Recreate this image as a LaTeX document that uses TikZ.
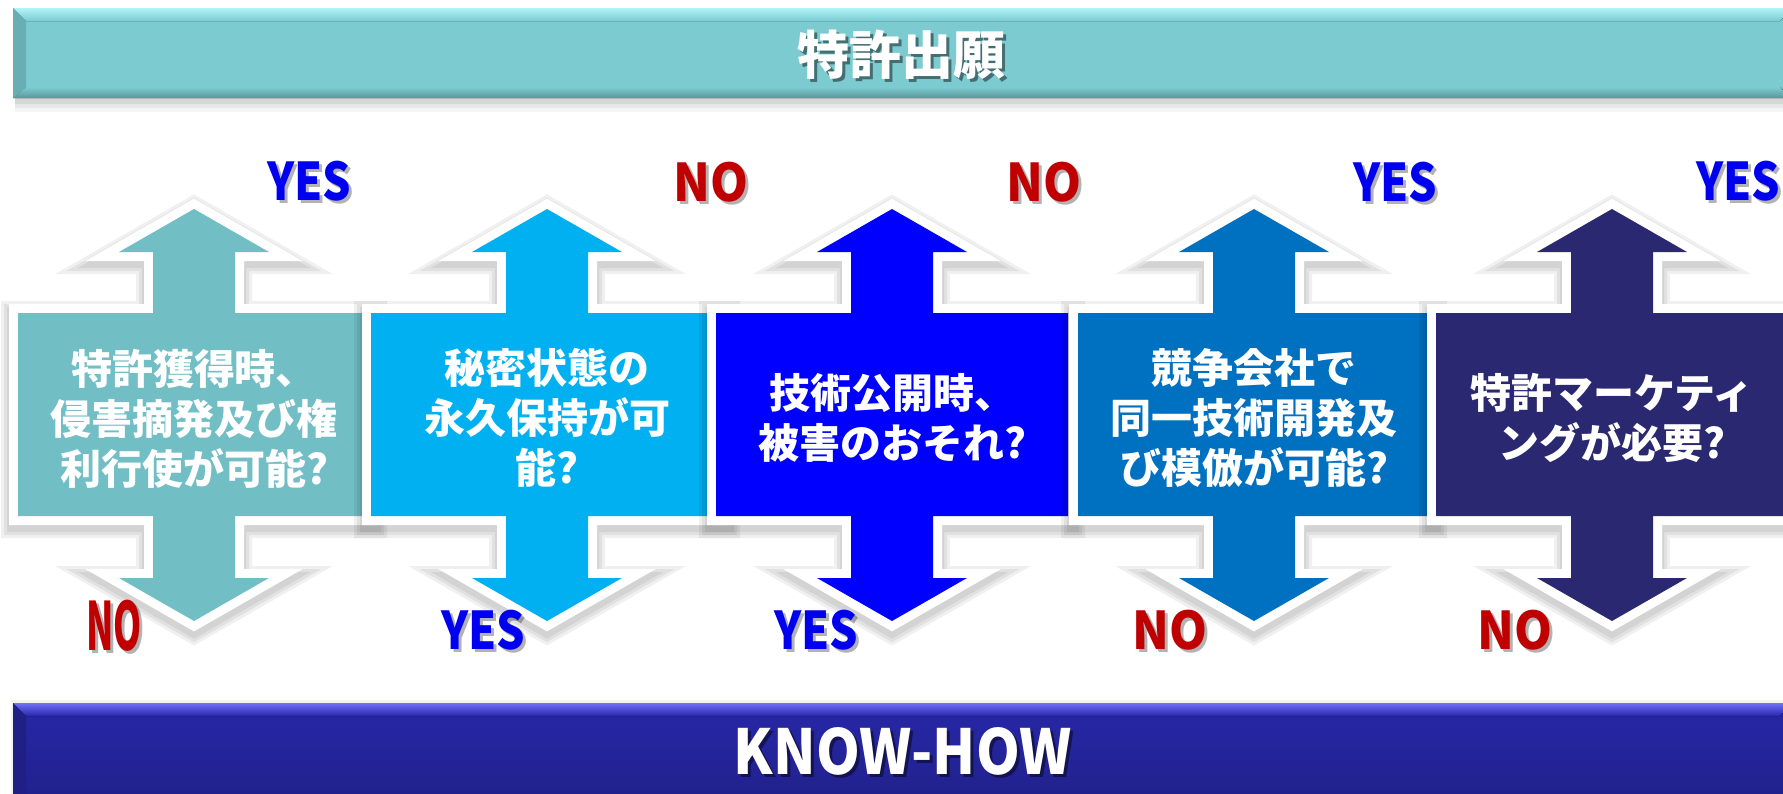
\documentclass[tikz,border=0pt]{standalone}
\usepackage{fontspec}
\newfontfamily\jp{Noto Sans CJK JP}
\definecolor{ca}{HTML}{72BEC5}
\definecolor{cb}{HTML}{00B0F0}
\definecolor{cc}{HTML}{0000FF}
\definecolor{cd}{HTML}{0070C0}
\definecolor{ce}{HTML}{2A2870}
\definecolor{topmain}{HTML}{7BCBD1}
\definecolor{toplight}{HTML}{B0F4F8}
\definecolor{topdark}{HTML}{5C979B}
\definecolor{topleft}{HTML}{68AEB3}
\definecolor{botmain}{HTML}{2727A8}
\definecolor{botlow}{HTML}{21218C}
\definecolor{botlight}{HTML}{7070F8}
\definecolor{yescol}{HTML}{0000F0}
\definecolor{nocol}{HTML}{C00000}
\def\XP{(-176,313) -- (-41,313) -- (-41,252) -- (-75,252) -- (0,209) -- (75,252) -- (41,252) -- (41,313) -- (176,313) -- (176,516) -- (41,516) -- (41,578) -- (75,578) -- (0,621) -- (-75,578) -- (-41,578) -- (-41,516) -- (-176,516) -- cycle}
\newcommand\crossarrow[2]{%
  \begin{scope}[xshift=#1pt]
    \foreach \w in {34,28,22}{\path[draw=black,fill=black,draw opacity=0.06,fill opacity=0.06,line width=\w pt,line join=miter,yshift=-5pt] \XP;}
    \path[draw=white,line width=18pt,line join=miter] \XP;
    \fill[#2] \XP;
  \end{scope}}
\newcommand\yesword{\scalebox{0.86}[1]{YES}}
\newcommand\noword{\scalebox{0.93}[1]{NO}}
\tikzset{
  shapetext/.style={align=center,text=white,inner sep=0pt,font=\jp\bfseries\fontsize{41}{50}\selectfont},
  lblyes/.style={inner sep=0pt,text=yescol,font=\jp\bfseries\fontsize{52}{52}\selectfont},
  lblno/.style={inner sep=0pt,text=nocol,font=\jp\bfseries\fontsize{52}{52}\selectfont},
  lblshadow/.style={inner sep=0pt,text=black,opacity=0.3,font=\jp\bfseries\fontsize{52}{52}\selectfont},
  bartext/.style={inner sep=0pt,text=white,font=\jp\bfseries\fontsize{52}{52}\selectfont},
  barshadow/.style={inner sep=0pt,text=black,opacity=0.45,font=\jp\bfseries\fontsize{52}{52}\selectfont}
}
\begin{document}
\begin{tikzpicture}[x=1pt,y=-1pt]
\useasboundingbox[fill=white] (0,0) rectangle (1783,793);
% top bar
\foreach \d/\o in {14/0.04,10/0.05,6/0.07}{\fill[black,opacity=\o] (15,20) rectangle (1800,98+\d);}
\fill[topmain] (13,8) rectangle (1792,98);
\fill[top color=toplight,bottom color=topmain] (13,8) -- (1792,8) -- (1780,21) -- (26,21) -- cycle;
\fill[top color=topmain,bottom color=topdark] (13,98) -- (1792,98) -- (1780,87) -- (26,87) -- cycle;
\fill[topleft] (13,8) -- (26,21) -- (26,87) -- (13,98) -- cycle;
\node[barshadow] (tts) at (904,58) {特許出願};
\node[bartext] (tt) at (901,55) {特許出願};
% bottom bar
\fill[black,opacity=0.05] (11,700) rectangle (1800,800);
\fill[top color=botmain,bottom color=botlow] (13,703) rectangle (1792,800);
\fill[top color=botlight,bottom color=botmain] (13,703) -- (1792,703) -- (1780,716) -- (26,716) -- cycle;
\fill[botmain!80!black] (13,703) -- (26,716) -- (26,800) -- (13,800) -- cycle;
\node[barshadow,font=\jp\bfseries\fontsize{62}{62}\selectfont] (bts) at (906,754) {\scalebox{0.9}[1]{KNOW-HOW}};
\node[bartext,font=\jp\bfseries\fontsize{62}{62}\selectfont] (bt) at (903,751) {\scalebox{0.9}[1]{KNOW-HOW}};
% crosses
\crossarrow{194}{ca}
\crossarrow{547}{cb}
\crossarrow{892}{cc}
\crossarrow{1254}{cd}
\crossarrow{1612}{ce}
% texts
\node[shapetext] (t1) at (194,419) {特許獲得時、\\侵害摘発及び権\\利行使が可能?};
\node[shapetext] (t2) at (547,418) {秘密状態の\\永久保持が可\\能?};
\node[shapetext] (t3) at (892,418) {技術公開時、\\被害のおそれ?};
\node[shapetext] (t4) at (1254,418) {競争会社で\\同一技術開発及\\び模倣が可能?};
\node[shapetext] (t5) at (1612,418) {特許マーケティ\\ングが必要?};
% label shadows
\node[lblshadow] (y1s) at (312,184) {\yesword};
\node[lblshadow] (n1s) at (117,629) {\scalebox{0.69}[1.28]{NO}};
\node[lblshadow] (n2s) at (714,185) {\noword};
\node[lblshadow] (y2s) at (486,633) {\yesword};
\node[lblshadow] (n3s) at (1047,185) {\noword};
\node[lblshadow] (y3s) at (819,633) {\yesword};
\node[lblshadow] (y4s) at (1398,185) {\yesword};
\node[lblshadow] (n4s) at (1173,633) {\noword};
\node[lblshadow] (y5s) at (1741,184) {\yesword};
\node[lblshadow] (n5s) at (1518,633) {\noword};
% labels
\node[lblyes] (y1) at (309,181) {\yesword};
\node[lblno] (n1) at (114,626) {\scalebox{0.69}[1.28]{NO}};
\node[lblno] (n2) at (711,182) {\noword};
\node[lblyes] (y2) at (483,630) {\yesword};
\node[lblno] (n3) at (1044,182) {\noword};
\node[lblyes] (y3) at (816,630) {\yesword};
\node[lblyes] (y4) at (1395,182) {\yesword};
\node[lblno] (n4) at (1170,630) {\noword};
\node[lblyes] (y5) at (1738,181) {\yesword};
\node[lblno] (n5) at (1515,630) {\noword};
\end{tikzpicture}
\end{document}
